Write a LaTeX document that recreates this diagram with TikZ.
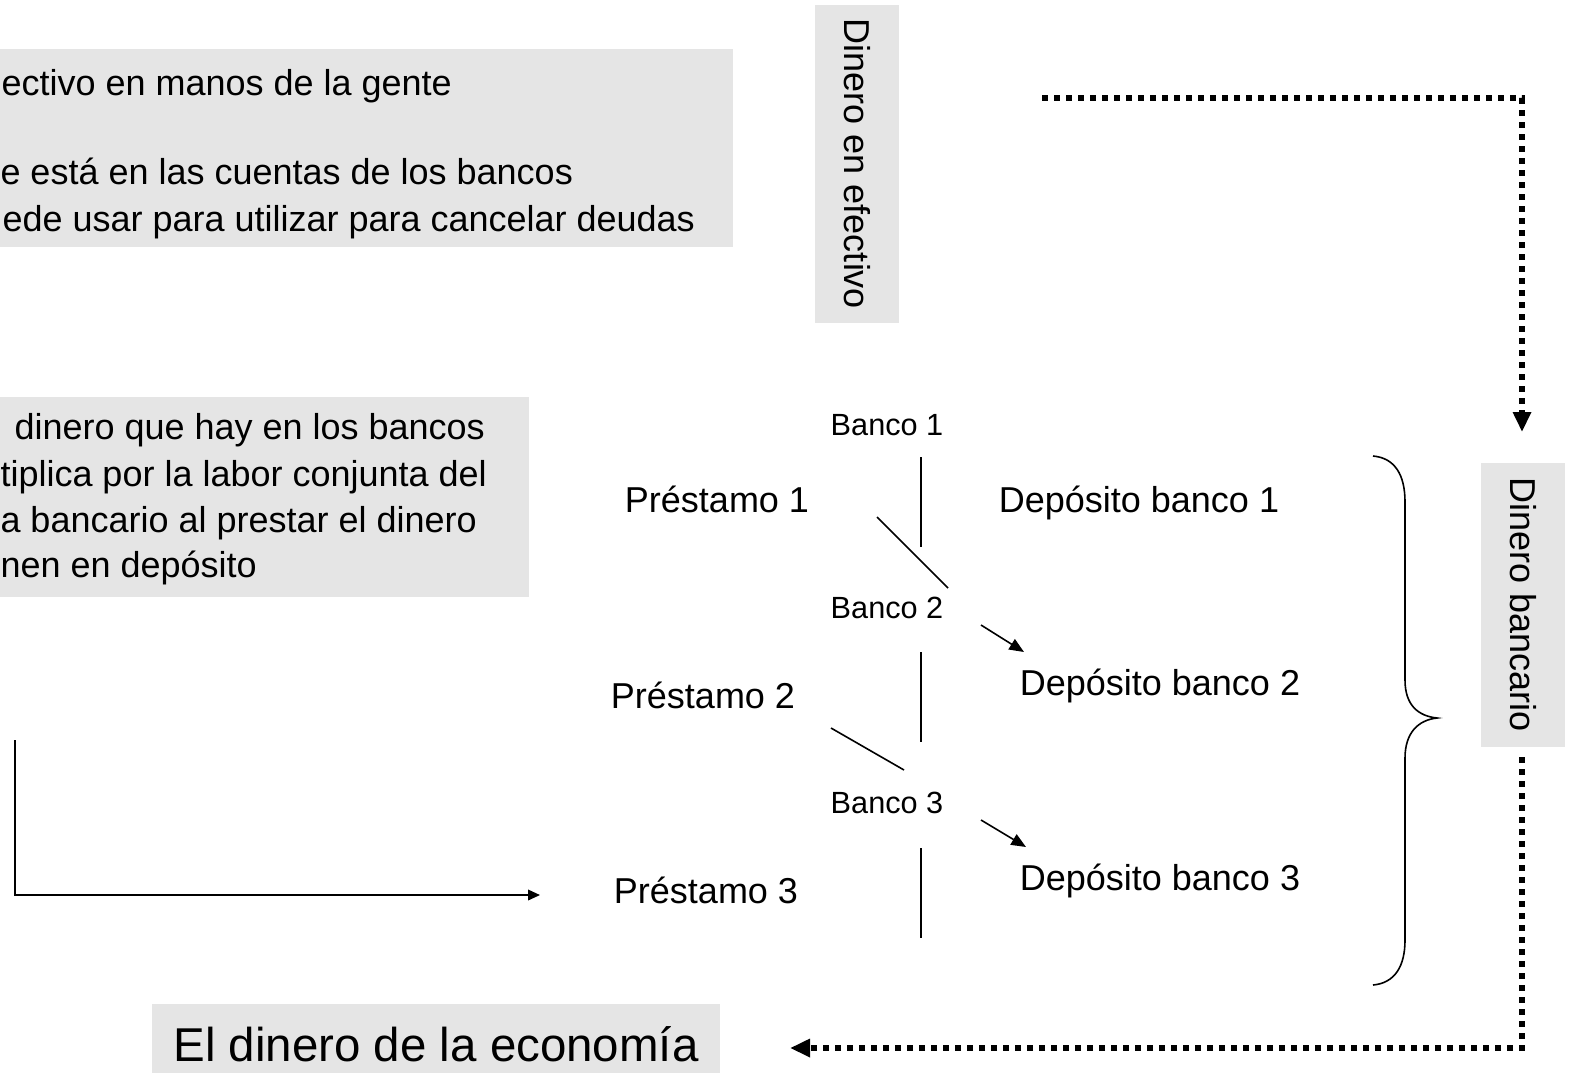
\documentclass[tikz,border=0pt]{standalone}
\usepackage{fontspec}
\setmainfont{Liberation Sans}
\usetikzlibrary{arrows.meta}
\definecolor{boxgray}{RGB}{229,229,229}

\tikzset{every picture/.style={line width=0.75pt}}
\tikzset{
  txt/.style={anchor=base west,inner sep=0pt,font=\fontsize{27}{32}\selectfont},
  lbl/.style={anchor=base,inner sep=0pt,font=\fontsize{27}{32}\selectfont},
  bank/.style={anchor=base,inner sep=0pt,font=\fontsize{23}{27}\selectfont},
  vbox/.style={fill=boxgray,inner sep=0pt,rotate=-90,minimum height=63pt,font=\fontsize{27}{32}\selectfont},
  thinline/.style={line width=1.2pt},
  dotline/.style={line width=4.2pt,dash pattern=on 4.2pt off 4.8pt},
}

\begin{document}
\begin{tikzpicture}[x=0.75pt,y=0.75pt,yscale=-1,xscale=1]
\useasboundingbox (0,0) rectangle (1573,1072);
\clip (0,0) rectangle (1573,1072);

%Shape: Rectangle
\fill [boxgray] (-10,49) rectangle (733,247);
%Shape: Rectangle
\fill [boxgray] (-10,397) rectangle (529,597);
%Shape: Rectangle
\fill [boxgray] (152,1004) rectangle (720,1080);

% Text Node
\node [txt] (efa) at (1,95) {ectivo en manos de la gente};
\node [txt] (efb) at (0,184) {e está en las cuentas de los bancos};
\node [txt] (efc) at (2,231) {ede usar para utilizar para cancelar deudas};
% Text Node
\node [txt] (mla) at (14,439) {dinero que hay en los bancos};
\node [txt] (mlb) at (0,486) {tiplica por la labor conjunta del};
\node [txt] (mlc) at (0,532) {a bancario al prestar el dinero};
\node [txt] (mld) at (0,577) {nen en depósito};

% Text Node
\node [vbox,minimum width=238.5pt] (efectivo) at (857,164) {Dinero en efectivo};
\node [vbox,minimum width=213pt] (bancario) at (1523,605) {Dinero bancario};
\node [anchor=base,inner sep=0pt,font=\fontsize{35.6}{40}\selectfont] (economia) at (436,1061) {El dinero de la economía};

% Text Node
\node [bank] (b1) at (887,435) {Banco 1};
\node [bank] (b2) at (887,618) {Banco 2};
\node [bank] (b3) at (887,813) {Banco 3};
\node [lbl] (p1) at (717,512) {Préstamo 1};
\node [lbl] (p2) at (703,708) {Préstamo 2};
\node [lbl] (p3) at (706,903) {Préstamo 3};
\node [lbl] (d1) at (1139,512) {Depósito banco 1};
\node [lbl] (d2) at (1160,695) {Depósito banco 2};
\node [lbl] (d3) at (1160,890) {Depósito banco 3};

% end points
\coordinate (v1a) at (921,457); \coordinate (v1b) at (921,547);
\coordinate (v2a) at (921,652); \coordinate (v2b) at (921,742);
\coordinate (v3a) at (921,848); \coordinate (v3b) at (921,938);
\coordinate (p1b) at (877,517); \coordinate (b2t) at (948,588);
\coordinate (p2b) at (831,728); \coordinate (b3t) at (904,770);
\coordinate (b2r) at (981,625); \coordinate (d2l) at (1024,652);
\coordinate (b3r) at (981,820); \coordinate (d3l) at (1026,847);
\coordinate (lt) at (15,740); \coordinate (lc) at (15,895); \coordinate (p3l) at (540,895);
\coordinate (ta) at (1042,98); \coordinate (tc) at (1522,98); \coordinate (te) at (1522,432);
\coordinate (ba) at (1522,757); \coordinate (bc) at (1522,1048); \coordinate (be) at (790,1048);

%Straight Lines
\draw [thinline] (v1a) -- (v1b);
\draw [thinline] (v2a) -- (v2b);
\draw [thinline] (v3a) -- (v3b);
\draw [thinline] (p1b) -- (b2t);
\draw [thinline] (p2b) -- (b3t);
\draw [thinline,-{Triangle[length=11pt,width=9pt]}] (b2r) -- (d2l);
\draw [thinline,-{Triangle[length=11pt,width=9pt]}] (b3r) -- (d3l);
\draw [thinline,-{Triangle[length=9pt,width=8pt]}] (lt) -- (lc) -- (p3l);

%Shape: Brace
\draw [thinline] (1373,456) .. controls (1395,458) and (1405,475) .. (1405,502) -- (1405,680) .. controls (1405,705) and (1418,716) .. (1437,718) .. controls (1418,720) and (1405,733) .. (1405,758) -- (1405,940) .. controls (1405,966) and (1395,983) .. (1373,985);

%Dotted Lines
\draw [dotline,-{Triangle[length=15pt,width=13pt]}] (ta) -- (tc) -- (te);
\draw [dotline,-{Triangle[length=15pt,width=13pt]}] (ba) -- (bc) -- (be);
\end{tikzpicture}
\end{document}
